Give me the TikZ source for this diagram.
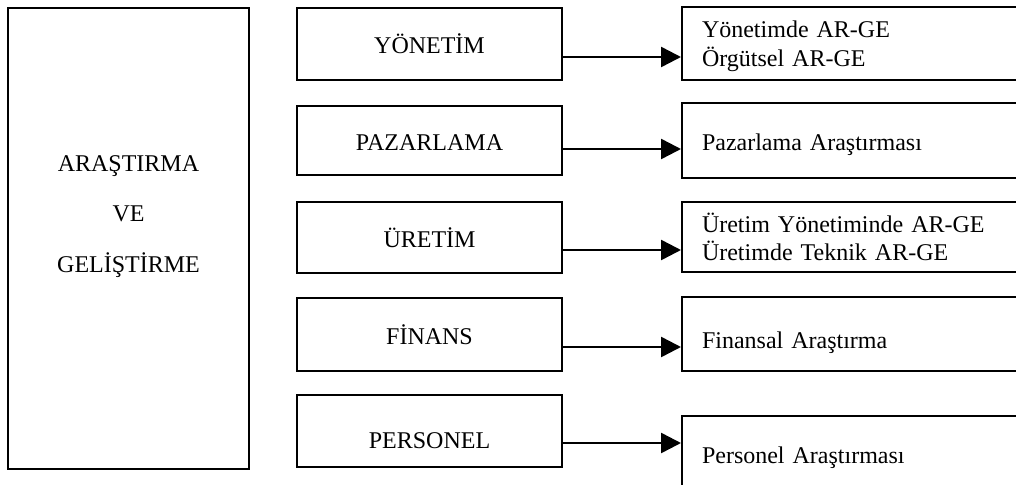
\documentclass[tikz,border=0pt]{standalone}
\usepackage{fontspec}
\setmainfont{Liberation Serif}
\usetikzlibrary{arrows.meta}

\begin{document}
\begin{tikzpicture}[
    x=1pt, y=-1pt,
    lbox/.style   = {draw, line width=2pt, minimum width=241pt,
                     minimum height=461pt, text width=220pt, align=center,
                     inner sep=0pt, text height=16pt, text depth=151pt,
                     font=\fontsize{24}{50.5}\selectfont},
    mbox/.style   = {draw, line width=2pt, minimum width=265pt,
                     inner sep=0pt, text height=20pt, text depth=0pt,
                     font=\fontsize{24}{28.5}\selectfont},
    rbox/.style   = {draw, line width=2pt, minimum width=348pt,
                     text width=308pt, align=left, inner xsep=20pt,
                     inner ysep=0pt, text height=20pt, text depth=0pt,
                     font=\fontsize{24}{28.5}\selectfont},
    % big filled triangle tip as in the scanned figure
    arr/.style    = {-{Triangle[length=20pt, width=20pt]}, line width=2.5pt},
]

% page frame (1016 x 484)
\useasboundingbox (0,0) rectangle (1016,484);

% ----------------------------------------------------------
%  LEFT  –  main block
% ----------------------------------------------------------
\node[lbox] (arge) at (128.5, 238.5) {ARAŞTIRMA\\VE\\GELİŞTİRME};

% ----------------------------------------------------------
%  MIDDLE  –  functions  (x 297 .. 562)
% ----------------------------------------------------------
\node[mbox, minimum height=72pt] (yon) at (429.5, 44)    {YÖNETİM};
\node[mbox, minimum height=69pt] (paz) at (429.5, 140.5) {PAZARLAMA};
\node[mbox, minimum height=71pt] (ure) at (429.5, 237.5) {ÜRETİM};
\node[mbox, minimum height=73pt] (fin) at (429.5, 334.5) {FİNANS};
\node[mbox, minimum height=72pt, text height=34pt]
    (per) at (429.5, 431) {PERSONEL};

% ----------------------------------------------------------
%  RIGHT  –  research fields  (x 682 .. off page)
% ----------------------------------------------------------
\node[rbox, minimum height=73pt, text height=16pt, text depth=27pt]
    (yonR) at (856, 43.5) {Yönetimde AR-GE\\Örgütsel AR-GE};
\node[rbox, minimum height=75pt] (pazR) at (856, 140.5) {Pazarlama Araştırması};
\node[rbox, minimum height=70pt, text height=16pt, text depth=26pt]
    (ureR) at (856, 237) {Üretim Yönetiminde AR-GE\\Üretimde Teknik AR-GE};
\node[rbox, minimum height=74pt, text height=28pt] (finR) at (856, 334) {Finansal Araştırma};
\node[rbox, minimum height=74pt] (perR) at (856, 453) {Personel Araştırması};

% ============================================================
%  ARROWS
% ============================================================
\draw[arr] ([yshift=-13pt]yon.east)  -- ([yshift=-13pt]yon.east -| yonR.west);
\draw[arr] ([yshift=-8.5pt]paz.east) -- ([yshift=-8.5pt]paz.east -| pazR.west);
\draw[arr] ([yshift=-12.5pt]ure.east) -- ([yshift=-12.5pt]ure.east -| ureR.west);
\draw[arr] ([yshift=-12.5pt]fin.east) -- ([yshift=-12.5pt]fin.east -| finR.west);
\draw[arr] ([yshift=-12pt]per.east)  -- ([yshift=-12pt]per.east -| perR.west);

\end{tikzpicture}
\end{document}
